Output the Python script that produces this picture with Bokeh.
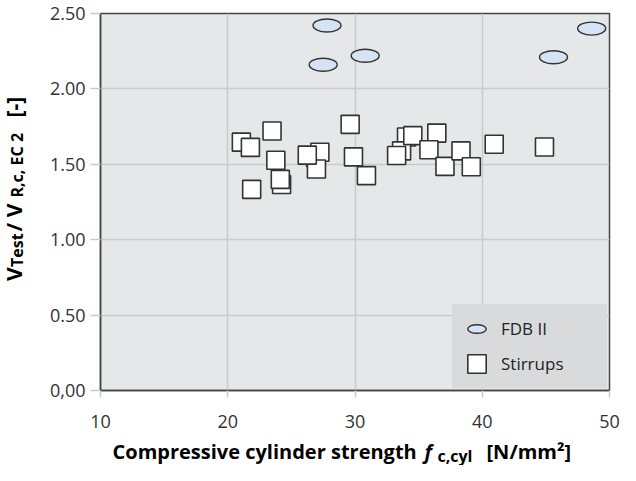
from bokeh.plotting import figure
from bokeh.layouts import row, column
from bokeh.models import FixedTicker, Legend, LegendItem, Label, Range1d
from bokeh.embed import file_html
from bokeh.resources import INLINE
import math

# ---------------- data ----------------
fdb_x = [27.8, 27.5, 30.8, 45.6, 48.6]
fdb_y = [2.42, 2.16, 2.22, 2.21, 2.40]

stirrups_x = [26.9, 21.07, 21.78, 23.48, 23.78, 24.23, 24.13, 21.88, 27.24, 26.97, 26.25,
              29.62, 29.88, 30.90, 34.05, 33.66, 33.27, 34.54, 36.43, 35.81, 37.07,
              38.33, 39.14, 40.94, 44.89]
stirrups_y = [1.545, 1.647, 1.612, 1.721, 1.527, 1.366, 1.400, 1.334, 1.580, 1.469, 1.561,
              1.765, 1.549, 1.425, 1.681, 1.589, 1.558, 1.690, 1.707, 1.596, 1.486,
              1.589, 1.484, 1.633, 1.615]

x_ticks = [10, 20, 30, 40, 50]
x_tick_labels = ["10", "20", "30", "40", "50"]
y_ticks = [0.0, 0.5, 1.0, 1.5, 2.0, 2.5]
y_tick_labels = ["0,00", "0.50", "1.00", "1.50", "2.00", "2.50"]

series_names = ["FDB II", "Stirrups"]

# ---------------- layout (px) ----------------
TOTAL_W, TOTAL_H = 620, 465
YT_W = 30                      # strip holding the y title
MAIN_W = TOTAL_W - YT_W
FL, FT, FW, FH = 70, 13, 509, 377   # frame inside the main figure
FB = 45                              # bottom border of main figure
MAIN_H = FT + FH + FB
XT_H = TOTAL_H - MAIN_H             # strip holding the x title
X0, X1, Y0, Y1 = 10, 50, 0.0, 2.5

FONT = "Open Sans"
GRID = "#c9cacc"
DARK = "#454545"

p = figure(width=MAIN_W, height=MAIN_H, x_range=Range1d(X0, X1), y_range=Range1d(Y0, Y1),
           output_backend="svg", toolbar_location=None, title=None,
           min_border_left=FL, min_border_top=FT,
           min_border_right=MAIN_W - FL - FW, min_border_bottom=FB)
p.frame_align = False
p.background_fill_color = "#e6e7e9"
p.border_fill_color = "white"
p.outline_line_color = DARK
p.outline_line_width = 1.5

p.xgrid.grid_line_color = GRID
p.ygrid.grid_line_color = GRID
p.xgrid.grid_line_width = 1.5
p.ygrid.grid_line_width = 1.5

p.xaxis.ticker = FixedTicker(ticks=x_ticks)
p.yaxis.ticker = FixedTicker(ticks=y_ticks)
p.xaxis.major_label_overrides = {t: l for t, l in zip(x_ticks, x_tick_labels)}
p.yaxis.major_label_overrides = {t: l for t, l in zip(y_ticks, y_tick_labels)}

for ax in (p.xaxis[0], p.yaxis[0]):
    ax.axis_line_color = DARK
    ax.axis_line_width = 1.5
    ax.major_tick_line_color = GRID
    ax.major_tick_line_width = 1.5
    ax.minor_tick_line_color = None
    ax.major_tick_in = 0
    ax.major_label_text_font = FONT
    ax.major_label_text_font_size = "18px"
    ax.major_label_text_color = "#333333"
p.xaxis.major_tick_out = 7
p.yaxis.major_tick_out = 10
p.xaxis.major_label_standoff = 17
p.yaxis.major_label_standoff = 5

# ---------------- glyphs ----------------
r_sq = p.rect(stirrups_x, stirrups_y, width=18, height=18,
              width_units="screen", height_units="screen",
              fill_color="white", line_color="#333333", line_width=1.6)
r_el = p.ellipse(fdb_x, fdb_y, width=28, height=13,
                 width_units="screen", height_units="screen",
                 fill_color="#d5e3f5", line_color="#333333", line_width=1.4)

legend = Legend(items=[LegendItem(label=series_names[0], renderers=[r_el]),
                       LegendItem(label=series_names[1], renderers=[r_sq])],
                location="bottom_right")
legend.margin = 2
legend.padding = 13
legend.spacing = 12
legend.glyph_width = 23
legend.glyph_height = 23
legend.label_standoff = 13
legend.label_width = 93
legend.label_height = 22
legend.label_text_font = FONT
legend.label_text_font_size = "17px"
legend.label_text_color = "#222222"
legend.background_fill_color = "#d9dadc"
legend.background_fill_alpha = 1.0
legend.border_line_color = "#d9dadc"
legend.border_line_alpha = 0.0
p.add_layout(legend)


# ---------------- axis titles, built from pieces in two text strips ----------------
def strip(w, h):
    f = figure(width=w, height=h, x_range=Range1d(0, w), y_range=Range1d(0, h),
               x_axis_type=None, y_axis_type=None, output_backend="svg",
               toolbar_location=None, title=None,
               min_border=0, min_border_left=0, min_border_right=0,
               min_border_top=0, min_border_bottom=0)
    f.frame_align = False
    f.outline_line_color = None
    f.background_fill_color = "white"
    f.border_fill_color = "white"
    f.xgrid.visible = False
    f.ygrid.visible = False
    return f


def piece(f, text, x, y, size, angle=0.0, style="bold"):
    f.add_layout(Label(x=x, y=y, text=text, angle=angle,
                       text_font=FONT, text_font_size=size, text_font_style=style,
                       text_color="black", text_align="left",
                       text_baseline="alphabetic"))


SHIFT = 7   # observed offset between the label anchor and the drawn baseline

# y title strip: rotated pieces; positions are page px (y measured from the top)
ys = strip(YT_W, TOTAL_H)
A = math.pi / 2
BX = 20 - SHIFT
for text, start_y, dx, size in [("V", 280.5, 0, "21px"),
                                ("Test", 266.5, 3, "16px"),
                                (" / V", 231.0, 0, "21px"),
                                ("R,c, EC 2", 197.0, 3, "16px"),
                                ("[-]", 117.0, 0, "21px")]:
    piece(ys, text, BX + dx, TOTAL_H - start_y, size, A)

# x title strip
xs = strip(MAIN_W, XT_H)
BASE = TOTAL_H - 458 + SHIFT     # baseline measured from the bottom of the page
OX = YT_W
piece(xs, "Compressive cylinder strength", 112 - OX, BASE, "20px")
piece(xs, "f", 424 - OX, BASE, "20px", style="bold italic")
piece(xs, "c,cyl", 437 - OX, BASE - 4, "16px")
piece(xs, "[N/mm²]", 486 - OX, BASE, "20px")

layout = row(ys, column(p, xs, spacing=0), spacing=0)

open("out.html", "w").write(file_html(layout, INLINE))
